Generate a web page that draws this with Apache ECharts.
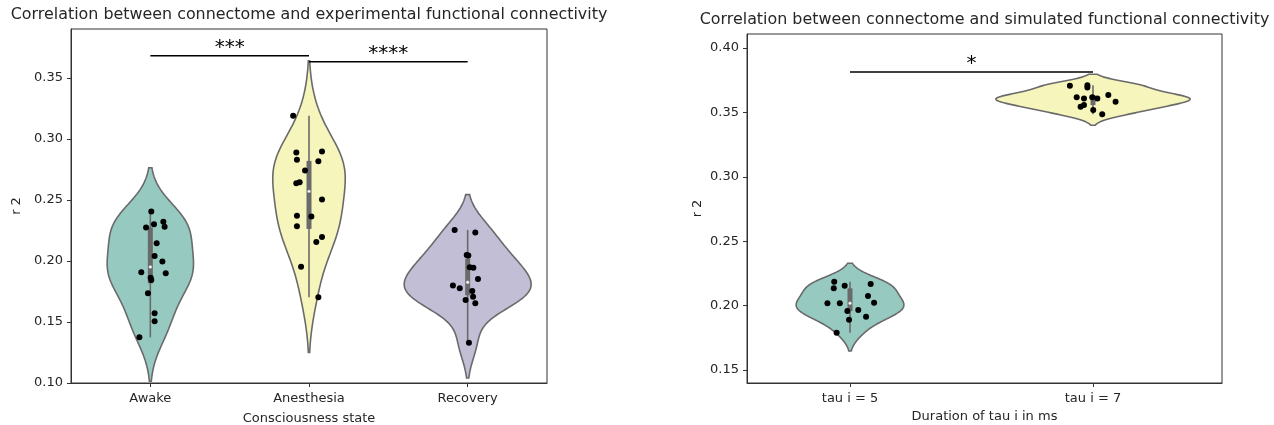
<!DOCTYPE html>
<html><head><meta charset="utf-8">
<script src="https://cdn.jsdelivr.net/npm/echarts@6/dist/echarts.min.js"></script>
<style>html,body{margin:0;padding:0;background:#fff}#c{width:1274px;height:425px}</style>
</head><body><div id="c"></div>
<script>
// ---------- data ----------
const leftCategories = ['Awake', 'Anesthesia', 'Recovery'];
const rightCategories = ['tau i = 5', 'tau i = 7'];

const awake = [0.2404,0.2301,0.2273,0.2320,0.2281,0.2145,0.2041,0.1995,0.1907,0.1863,0.1844,0.1899,0.1735,0.1571,0.1506,0.1374];
const awakeJitter = [0.006,0.023,-0.027,0.082,0.090,0.040,0.027,0.076,-0.057,0.002,0.006,0.097,-0.015,0.027,0.027,-0.069];

const anesthesia = [0.3189,0.2888,0.2896,0.2828,0.2817,0.2740,0.2637,0.2645,0.2503,0.2371,0.2363,0.2284,0.2197,0.2156,0.1953,0.1702];
const anesthesiaJitter = [-0.100,-0.080,0.082,-0.076,0.059,-0.025,-0.080,-0.059,0.082,-0.076,0.015,-0.076,0.082,0.046,-0.050,0.059];

const recovery = [0.2254,0.2232,0.2049,0.2044,0.1948,0.1945,0.1852,0.1798,0.1776,0.1754,0.1707,0.1680,0.1653,0.1330];
const recoveryJitter = [-0.082,0.048,-0.006,0.004,0.013,0.036,0.065,-0.093,-0.050,0.029,0.034,-0.013,0.048,0.008];

const tau5 = [0.2186,0.2134,0.2155,0.2168,0.2075,0.2023,0.2018,0.2018,0.1958,0.1966,0.1914,0.1891,0.1790];
const tau5Jitter = [-0.065,-0.067,-0.022,0.085,0.074,0.099,-0.093,-0.042,-0.011,0.034,0.066,-0.004,-0.055];

const tau7 = [0.3707,0.3712,0.3694,0.3617,0.3609,0.3617,0.3609,0.3635,0.3583,0.3544,0.3557,0.3519,0.3485];
const tau7Jitter = [-0.095,-0.023,-0.023,-0.067,-0.037,-0.003,0.018,0.063,0.093,-0.051,-0.037,0.001,0.038];

const leftYTicks = [0.10,0.15,0.20,0.25,0.30,0.35];
const rightYTicks = [0.15,0.20,0.25,0.30,0.35,0.40];

const leftSig = [[0, 1, 0.368, '***'], [1, 2, 0.3631, '****']];
const rightSig = [[0, 1, 0.3814, '*']];

const palette = ['#96cac1', '#f6f6bc', '#c1bed6'];
const gray = '#6a6a6a';
const FONT = 'DejaVu Sans';

// ---------- stats (seaborn-like) ----------
function kde(data) {
  const n = data.length, mean = data.reduce((a, b) => a + b, 0) / n;
  const sd = Math.sqrt(data.reduce((a, b) => a + (b - mean) * (b - mean), 0) / (n - 1));
  const bw = Math.pow(n, -0.2) * sd;
  const lo = Math.min(...data) - 2 * bw, hi = Math.max(...data) + 2 * bw;
  const pts = [], G = 100;
  for (let i = 0; i < G; i++) {
    const y = lo + (hi - lo) * i / (G - 1);
    let d = 0;
    for (const v of data) { const z = (y - v) / bw; d += Math.exp(-0.5 * z * z); }
    pts.push([y, d / (n * bw * Math.sqrt(2 * Math.PI))]);
  }
  return pts;
}
function pct(sorted, p) {
  const idx = (sorted.length - 1) * p, lo = Math.floor(idx), hi = Math.ceil(idx);
  return sorted[lo] + (sorted[hi] - sorted[lo]) * (idx - lo);
}
function buildViolins(groups) {
  const vs = groups.map((g, i) => {
    const s = g.slice().sort((a, b) => a - b);
    const q25 = pct(s, 0.25), q50 = pct(s, 0.5), q75 = pct(s, 0.75);
    const iqr = q75 - q25;
    const h1 = Math.min(...s.filter(v => v >= q25 - 1.5 * iqr));
    const h2 = Math.max(...s.filter(v => v <= q75 + 1.5 * iqr));
    return { x: i, kde: kde(g), q25, q50, q75, h1, h2, color: palette[i] };
  });
  const maxD = Math.max(...vs.map(v => Math.max(...v.kde.map(p => p[1]))));
  vs.forEach(v => v.maxD = maxD);
  return vs;
}
const leftViolins = buildViolins([awake, anesthesia, recovery]);
const rightViolins = buildViolins([tau5, tau7]);

function violinRender(violins) {
  return function (params, api) {
    const v = violins[params.dataIndex];
    const right = [], left = [];
    for (const [y, d] of v.kde) {
      const hw = d / v.maxD * 0.4;
      right.push(api.coord([v.x + hw, y]));
      left.push(api.coord([v.x - hw, y]));
    }
    const poly = right.concat(left.reverse());
    const a = api.coord([v.x, v.h1]), b = api.coord([v.x, v.h2]);
    const q1 = api.coord([v.x, v.q25]), q3 = api.coord([v.x, v.q75]);
    const m = api.coord([v.x, v.q50]);
    return { type: 'group', children: [
      { type: 'polygon', shape: { points: poly }, style: { fill: v.color, stroke: gray, lineWidth: 1.6 } },
      { type: 'line', shape: { x1: a[0], y1: a[1], x2: b[0], y2: b[1] }, style: { stroke: gray, lineWidth: 1.6 } },
      { type: 'line', shape: { x1: q1[0], y1: q1[1], x2: q3[0], y2: q3[1] }, style: { stroke: gray, lineWidth: 5 } },
      { type: 'circle', shape: { cx: m[0], cy: m[1], r: 1.7 }, style: { fill: '#fff', stroke: gray, lineWidth: 0.4 } }
    ]};
  };
}
function sigRender(sig) {
  return function (params, api) {
    const s = sig[params.dataIndex];
    const p1 = api.coord([s[0], s[2]]), p2 = api.coord([s[1], s[2]]);
    return { type: 'group', children: [
      { type: 'line', shape: { x1: p1[0], y1: p1[1], x2: p2[0], y2: p2[1] }, style: { stroke: '#000', lineWidth: 1.5 } },
      { type: 'text', x: (p1[0] + p2[0]) / 2, y: p1[1] + 2, style: { text: s[3], fontSize: 20, fontFamily: FONT, fill: '#000', align: 'center', verticalAlign: 'bottom' } }
    ]};
  };
}
function points(groups, jitters) {
  const out = [];
  groups.forEach((g, i) => g.forEach((v, j) => out.push([i + jitters[i][j], v])));
  return out;
}

const txt = '#262626', axisCol = '#333';
function xAxis(grid, min, max, cats, name, gap) {
  const vals = cats.map((c, i) => i);
  return {
    type: 'value', gridIndex: grid, min, max,
    axisLine: { show: true, onZero: false, lineStyle: { color: axisCol, width: 1 } },
    axisTick: { show: true, customValues: vals, length: 4, lineStyle: { color: axisCol } },
    axisLabel: { customValues: vals, formatter: v => cats[Math.round(v)], margin: 9, fontSize: 13, fontFamily: FONT, color: txt },
    splitLine: { show: false },
    name, nameLocation: 'middle', nameGap: gap, nameTextStyle: { fontSize: 13, fontFamily: FONT, color: txt }
  };
}
function yAxis(grid, min, max, ticks, gap) {
  return {
    type: 'value', gridIndex: grid, min, max,
    axisLine: { show: true, onZero: false, lineStyle: { color: axisCol, width: 1 } },
    axisTick: { show: true, customValues: ticks, length: 4, lineStyle: { color: axisCol } },
    axisLabel: { customValues: ticks, formatter: v => v.toFixed(2), margin: 8, fontSize: 13, fontFamily: FONT, color: txt },
    splitLine: { show: false },
    name: 'r 2', nameLocation: 'middle', nameGap: gap, nameTextStyle: { fontSize: 13, fontFamily: FONT, color: txt }
  };
}

const chart = echarts.init(document.getElementById('c'), null, { renderer: 'canvas' });
chart.setOption({
  animation: false,
  backgroundColor: '#fff',
  graphic: [
    { type: 'text', x: 309, y: 15, style: { text: 'Correlation between connectome and experimental functional connectivity', fontSize: 15.9, fontFamily: FONT, fill: txt, align: 'center', verticalAlign: 'middle' } },
    { type: 'text', x: 984.5, y: 20, style: { text: 'Correlation between connectome and simulated functional connectivity', fontSize: 15.9, fontFamily: FONT, fill: txt, align: 'center', verticalAlign: 'middle' } }
  ],
  grid: [
    { left: 71, top: 29, width: 476, height: 354, containLabel: false, outerBoundsMode: 'none', show: true, borderColor: axisCol, borderWidth: 1, backgroundColor: 'transparent' },
    { left: 747, top: 34, width: 475, height: 349, containLabel: false, outerBoundsMode: 'none', show: true, borderColor: axisCol, borderWidth: 1, backgroundColor: 'transparent' }
  ],
  xAxis: [
    xAxis(0, -0.5, 2.5, leftCategories, 'Consciousness state', 29),
    xAxis(1, -0.424, 1.531, rightCategories, 'Duration of tau i in ms', 26)
  ],
  yAxis: [
    yAxis(0, 0.10, 0.39, leftYTicks, 48),
    yAxis(1, 0.1399, 0.4109, rightYTicks, 43)
  ],
  series: [
    { type: 'custom', xAxisIndex: 0, yAxisIndex: 0, clip: true, z: 2, renderItem: violinRender(leftViolins), data: leftViolins.map(v => [v.x, v.q50]) },
    { type: 'custom', xAxisIndex: 1, yAxisIndex: 1, clip: true, z: 2, renderItem: violinRender(rightViolins), data: rightViolins.map(v => [v.x, v.q50]) },
    { type: 'scatter', xAxisIndex: 0, yAxisIndex: 0, z: 3, symbolSize: 6, itemStyle: { color: '#000', opacity: 1 }, data: points([awake, anesthesia, recovery], [awakeJitter, anesthesiaJitter, recoveryJitter]) },
    { type: 'scatter', xAxisIndex: 1, yAxisIndex: 1, z: 3, symbolSize: 6, itemStyle: { color: '#000', opacity: 1 }, data: points([tau5, tau7], [tau5Jitter, tau7Jitter]) },
    { type: 'custom', xAxisIndex: 0, yAxisIndex: 0, clip: false, z: 4, renderItem: sigRender(leftSig), data: leftSig.map(s => [s[0], s[2]]) },
    { type: 'custom', xAxisIndex: 1, yAxisIndex: 1, clip: false, z: 4, renderItem: sigRender(rightSig), data: rightSig.map(s => [s[0], s[2]]) }
  ]
});
</script>
</body></html>
